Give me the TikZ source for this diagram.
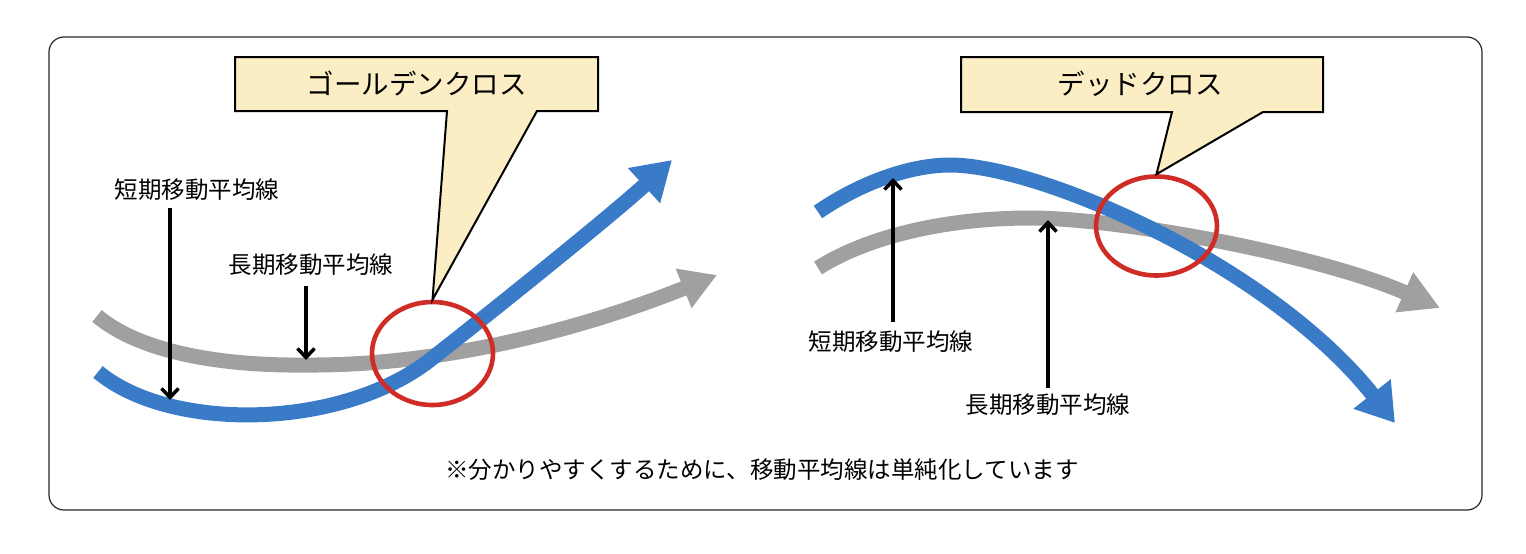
\documentclass[tikz,border=0pt]{standalone}
\usepackage{fontspec}
\setmainfont{Noto Sans CJK JP}
\usetikzlibrary{arrows.meta,shapes.geometric}
\definecolor{maBlue}{RGB}{58,123,200}
\definecolor{maGray}{RGB}{160,160,160}
\definecolor{maRed}{RGB}{208,44,38}
\definecolor{calloutFill}{RGB}{251,238,196}
\tikzset{
  frame/.style={draw=black!85, line width=1.2pt, rounded corners=15pt},
  callout/.style={draw=black, line width=2pt, fill=calloutFill, line join=miter},
  title/.style={font=\fontsize{27.5}{32}\selectfont, inner sep=0pt},
  label/.style={font=\fontsize{23.5}{28}\selectfont, inner sep=0pt},
  ring/.style={draw=maRed, line width=4.6pt, ellipse, inner sep=0pt},
  shortline/.style={draw=maBlue, line width=15pt},
  longline/.style={draw=maGray, line width=15pt},
  ptr/.style={draw=black, line width=3.5pt, -{Straight Barb[length=9pt,width=17pt,line width=3.5pt]}}
}
\begin{document}
\begin{tikzpicture}[x=1pt,y=-1pt]
\useasboundingbox (0,0) rectangle (1526,554);
\draw[frame] (49,37) rectangle (1482,510);

% ---------- left: golden cross ----------
\coordinate (gA) at (97,316);
\coordinate (gB) at (306,365);
\coordinate (gT) at (717,275);
\draw[longline, -{Triangle[length=36pt,width=40pt]}]
  (gA) .. controls (140,352) and (220,366) .. (gB)
       .. controls (440,366) and (580,330) .. (gT);
\coordinate (bA) at (98,372);
\coordinate (bB) at (430,360);
\coordinate (bT) at (672,160);
\draw[shortline, -{Triangle[length=38pt,width=45pt]}]
  (bA) .. controls (170,432) and (340,430) .. (bB)
       .. controls (500,305) and (612,215) .. (bT);

\node[ring, minimum width=121pt, minimum height=103pt] (gc) at (432.5,353.5) {};

\draw[callout] (235,57) -- (598,57) -- (598,111) -- (537,111) -- (gc.north) -- (447,111) -- (235,111) -- cycle;
\node[title] (gct) at (416.5,84) {ゴールデンクロス};

\node[label] (ls1) at (197,190) {短期移動平均線};
\coordinate (ls1t) at (170,400);
\draw[ptr] (ls1t |- 0,208) -- (ls1t);
\node[label] (ll1) at (311,265) {長期移動平均線};
\coordinate (ll1t) at (306,360);
\draw[ptr] (ll1t |- 0,286) -- (ll1t);

% ---------- right: dead cross ----------
\coordinate (rgA) at (818,268);
\coordinate (rgB) at (1030,218);
\coordinate (rgT) at (1440,308);
\draw[longline, -{Triangle[length=39pt,width=41pt]}]
  (rgA) .. controls (870,235) and (950,218) .. (rgB)
        .. controls (1120,218) and (1320,255) .. (rgT);
\coordinate (rbA) at (818,212);
\coordinate (rbB) at (950,165);
\coordinate (rbT) at (1395,423);
\draw[shortline, -{Triangle[length=37pt,width=45pt]}]
  (rbA) .. controls (860,183) and (910,165) .. (rbB)
        .. controls (1040,165) and (1270,265) .. (rbT);

\node[ring, minimum width=121pt, minimum height=99pt] (dc) at (1156.5,226) {};

\draw[callout] (961,57) -- (1323,57) -- (1323,112) -- (1263,112) -- (dc.north) -- (1172,112) -- (961,112) -- cycle;
\node[title] (dct) at (1140,84) {デッドクロス};

\node[label] (rs1) at (891,342) {短期移動平均線};
\coordinate (rs1t) at (893,178);
\draw[ptr] (rs1t |- 0,322) -- (rs1t);
\node[label] (rl1) at (1048,405) {長期移動平均線};
\coordinate (rl1t) at (1048,220);
\draw[ptr] (rl1t |- 0,388) -- (rl1t);

% ---------- note ----------
\node[label] (note) at (762,470) {※分かりやすくするために、移動平均線は単純化しています};
\end{tikzpicture}
\end{document}
